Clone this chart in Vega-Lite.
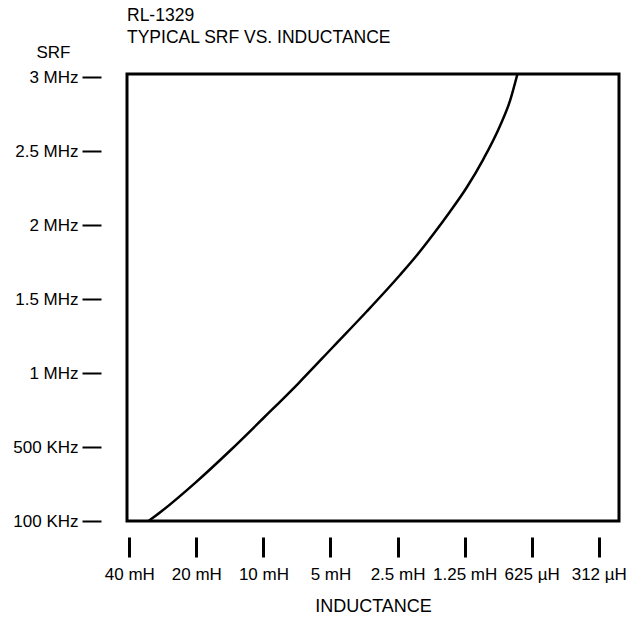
{
  "$schema": "https://vega.github.io/schema/vega-lite/v6.json",
  "autosize": {"type": "none"},
  "padding": {"left": 127, "top": 74, "right": 14, "bottom": 98},
  "width": 492,
  "height": 447,
  "background": "white",
  "title": {
    "text": ["RL-1329", "TYPICAL SRF VS. INDUCTANCE"],
    "anchor": "start",
    "frame": "group",
    "font": "Liberation Sans",
    "fontSize": 17.5,
    "fontWeight": "normal",
    "color": "#000",
    "lineHeight": 22,
    "offset": 6,
    "dy": 9
  },
  "data": {
    "values": [
      {"inductance_mH": 32.8, "srf_hz": 100000},
      {"inductance_mH": 28.76, "srf_hz": 151400},
      {"inductance_mH": 20.18, "srf_hz": 307600},
      {"inductance_mH": 14.17, "srf_hz": 478400},
      {"inductance_mH": 9.94, "srf_hz": 699300},
      {"inductance_mH": 6.98, "srf_hz": 929000},
      {"inductance_mH": 4.873, "srf_hz": 1175700},
      {"inductance_mH": 3.439, "srf_hz": 1415500},
      {"inductance_mH": 2.438, "srf_hz": 1662200},
      {"inductance_mH": 2.052, "srf_hz": 1793900},
      {"inductance_mH": 1.725, "srf_hz": 1939200},
      {"inductance_mH": 1.455, "srf_hz": 2089900},
      {"inductance_mH": 1.2237, "srf_hz": 2253400},
      {"inductance_mH": 1.0308, "srf_hz": 2443900},
      {"inductance_mH": 0.8675, "srf_hz": 2669600},
      {"inductance_mH": 0.7822, "srf_hz": 2838500},
      {"inductance_mH": 0.7242, "srf_hz": 3020300}
    ]
  },
  "mark": {"type": "line", "color": "#000", "strokeWidth": 2.5, "interpolate": "monotone", "clip": true},
  "encoding": {
    "x": {
      "field": "inductance_mH",
      "type": "quantitative",
      "scale": {"type": "log", "base": 2, "domain": [40.96, 0.2535], "nice": false},
      "axis": {
        "title": "INDUCTANCE",
        "values": [40, 20, 10, 5, 2.5, 1.25, 0.625, 0.3125],
        "labelExpr": "datum.value >= 1 ? datum.value + ' mH' : floor(datum.value * 1000) + ' µH'",
        "domain": false,
        "grid": false,
        "offset": 16,
        "tickSize": 20,
        "tickWidth": 3,
        "tickColor": "#000",
        "labelPadding": 9,
        "labelFont": "Liberation Sans",
        "labelFontSize": 17,
        "labelColor": "#000",
        "labelFlush": false,
        "labelOverlap": false,
        "titleFont": "Liberation Sans",
        "titleFontSize": 18,
        "titleFontWeight": "normal",
        "titleColor": "#000",
        "titlePadding": 15
      }
    },
    "y": {
      "field": "srf_hz",
      "type": "quantitative",
      "scale": {"domain": [100000, 500000, 3000000], "range": [447, 373, 3], "zero": false, "nice": false},
      "axis": {
        "title": "SRF",
        "values": [100000, 500000, 1000000, 1500000, 2000000, 2500000, 3000000],
        "labelExpr": "datum.value >= 1000000 ? (datum.value / 1000000) + ' MHz' : (datum.value / 1000) + ' KHz'",
        "domain": false,
        "grid": false,
        "offset": 26,
        "tickSize": 19,
        "tickWidth": 2,
        "tickColor": "#000",
        "labelPadding": 4,
        "labelFont": "Liberation Sans",
        "labelFontSize": 17,
        "labelColor": "#000",
        "labelFlush": false,
        "labelOverlap": false,
        "titleAngle": 0,
        "titleAlign": "center",
        "titleBaseline": "middle",
        "titleX": -48,
        "titleY": -22,
        "titleFont": "Liberation Sans",
        "titleFontSize": 17,
        "titleFontWeight": "normal",
        "titleColor": "#000"
      }
    }
  },
  "config": {
    "view": {"stroke": "#000", "strokeWidth": 3, "fill": "white"}
  }
}
